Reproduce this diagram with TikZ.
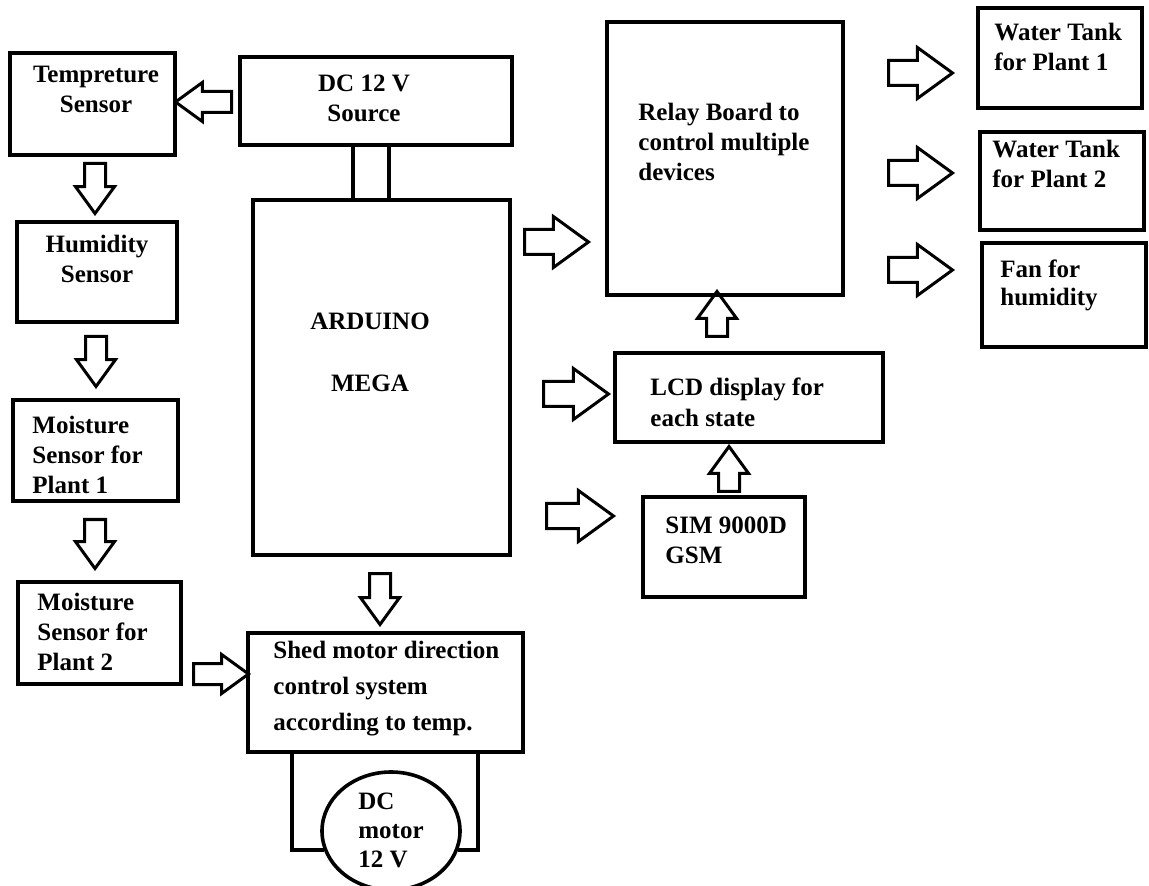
\documentclass[tikz,border=0pt]{standalone}
\usepackage{fontspec}
\setmainfont{Liberation Serif}
\usepackage{tikz}
\usetikzlibrary{shapes.geometric,shapes.arrows}

\begin{document}
\begin{tikzpicture}[
  x=0.5pt, y=-0.5pt,
  box/.style={draw, line width=1.8pt, inner sep=0pt},
  lbl/.style={font=\fontsize{12.5}{15}\selectfont\bfseries, align=left,
    inner sep=0pt, anchor=north west},
  clbl/.style={lbl, align=center, anchor=north},
  bigarrow/.style={single arrow, draw, line width=1.5pt, inner sep=0pt,
    text height=5.5pt, text depth=5.5pt, minimum width=0pt, anchor=tail,
    single arrow head extend=6.5pt, single arrow tip angle=72},
  smallarrow/.style={bigarrow, text height=4.5pt, text depth=4.5pt,
    single arrow head extend=4.5pt},
  wire/.style={line width=1.8pt}
]
\useasboundingbox[fill=white] (0,0) rectangle (1149,886);

\node[box, minimum width=82.5pt, minimum height=51pt] (temp) at (92.5,104) {};
\node[box, minimum width=136pt, minimum height=44pt] (dcsrc) at (376,101) {};
\node[box, minimum width=80pt, minimum height=50pt] (humid) at (97,272) {};
\node[box, minimum width=82.5pt, minimum height=50.5pt] (moist1) at (95.5,450.5) {};
\node[box, minimum width=81.5pt, minimum height=51pt] (moist2) at (99.5,633) {};
\node[box, minimum width=128.5pt, minimum height=177.5pt] (ard) at (381.5,377.5) {};
\node[box, minimum width=137.5pt, minimum height=59.5pt] (shed) at (385.5,692.5) {};
\node[box, ellipse, minimum width=69pt, minimum height=59pt] (motor) at (391,831) {};
\node[box, minimum width=118pt, minimum height=136.5pt] (relay) at (725,158.5) {};
\node[box, minimum width=82pt, minimum height=50pt] (tank1) at (1060,58) {};
\node[box, minimum width=82pt, minimum height=49pt] (tank2) at (1062,181) {};
\node[box, minimum width=82pt, minimum height=52pt] (fan) at (1064,295) {};
\node[box, minimum width=134pt, minimum height=44.5pt] (lcd) at (749,397.5) {};
\node[box, minimum width=81pt, minimum height=50pt] (sim) at (724,547) {};

\node[clbl] (templbl) at (96,66) {Tempreture\\Sensor};
\node[clbl] (dclbl) at (364,75) {DC 12 V\\Source};
\node[clbl] (humidlbl) at (97,235) {Humidity\\Sensor};
\node[lbl] (moist1lbl) at (32,416) {Moisture\\Sensor for\\Plant 1};
\node[lbl] (moist2lbl) at (37,593) {Moisture\\Sensor for\\Plant 2};
\node[clbl] (ardlbl) at (370,313) {ARDUINO\\[16pt]MEGA};
\node[lbl, font=\fontsize{12.5}{18}\selectfont\bfseries] (shedlbl) at (273,641)
  {Shed motor direction\\control system\\according to temp.};
\node[lbl, font=\fontsize{12.5}{14.5}\selectfont\bfseries] (motorlbl) at (358,793)
  {DC\\motor\\12 V};
\node[lbl] (relaylbl) at (638,103) {Relay Board to\\control multiple\\devices};
\node[lbl] (tank1lbl) at (994,23) {Water Tank\\for Plant 1};
\node[lbl] (tank2lbl) at (992,140) {Water Tank\\for Plant 2};
\node[lbl, font=\fontsize{12.5}{14}\selectfont\bfseries] (fanlbl) at (1000,260) {Fan for\\humidity};
\node[lbl] (lcdlbl) at (650,378) {LCD display for\\each state};
\node[lbl] (simlbl) at (665,516) {SIM 9000D\\GSM};

\node[smallarrow, rotate=180, minimum height=28pt] (a1) at (233,102) {};
\node[smallarrow, rotate=-90, minimum height=25pt] (a2) at (95,162) {};
\node[smallarrow, rotate=-90, minimum height=25pt] (a3) at (96,335) {};
\node[smallarrow, rotate=-90, minimum height=24.5pt] (a4) at (95,518) {};
\node[smallarrow, minimum height=27.5pt] (a5) at (192,674) {};
\node[smallarrow, rotate=-90, minimum height=25.5pt] (a6) at (380,572) {};
\node[bigarrow, minimum height=32pt] (a7) at (523,242) {};
\node[bigarrow, minimum height=32.5pt] (a8) at (542,394) {};
\node[bigarrow, minimum height=33.5pt] (a9) at (545,516) {};
\node[bigarrow, minimum height=32pt] (a10) at (887,73) {};
\node[bigarrow, minimum height=32pt] (a11) at (887,173) {};
\node[bigarrow, minimum height=32pt] (a12) at (887,270) {};
\node[smallarrow, rotate=90, minimum height=22.5pt] (a13) at (717,338) {};
\node[smallarrow, rotate=90, minimum height=22.5pt] (a14) at (729,493) {};

\draw[wire] (dcsrc.south) ++(-23,0) coordinate (w1) -- (w1 |- ard.north);
\draw[wire] (dcsrc.south) ++(13,0) coordinate (w2) -- (w2 |- ard.north);
\draw[wire] (shed.south) ++(-93.5,0) coordinate (w3) |- (motor.196);
\draw[wire] (shed.south) ++(92.5,0) coordinate (w4) |- (motor.344);
\end{tikzpicture}
\end{document}
